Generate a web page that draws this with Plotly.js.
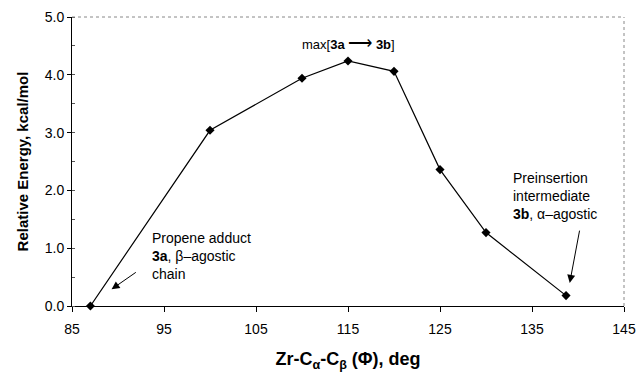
<!DOCTYPE html>
<html><head><meta charset="utf-8">
<script src="https://cdn.plot.ly/plotly-3.0.1.min.js"></script>
<style>html,body{margin:0;padding:0;background:#fff}#c{width:638px;height:372px}</style>
</head><body><div id="c"></div>
<script>
const angles = [87, 100, 110, 115, 120, 125, 130, 138.7];
const energies = [0.0, 3.04, 3.94, 4.24, 4.06, 2.36, 1.27, 0.18];
const xTicks = [85, 95, 105, 115, 125, 135, 145];
const yTicks = [0, 1, 2, 3, 4, 5];
const yTickLabels = ['0.0', '1.0', '2.0', '3.0', '4.0', '5.0'];

const F = 'Liberation Sans, Arial, sans-serif';
const trace = {
  x: angles, y: energies, type: 'scatter', mode: 'lines+markers',
  line: {color: '#000', width: 1.2},
  marker: {symbol: 'diamond', size: 7, color: '#000'},
  cliponaxis: false
};
const layout = {
  width: 638, height: 372,
  margin: {l: 72, r: 14, t: 17, b: 66},
  paper_bgcolor: '#fff', plot_bgcolor: '#fff',
  showlegend: false,
  font: {family: F, color: '#000', size: 13},
  xaxis: {
    range: [85, 145], tickvals: xTicks, ticktext: xTicks.map(String),
    showgrid: false, zeroline: false,
    showline: true, linecolor: '#000', linewidth: 1, mirror: false,
    ticks: 'outside', ticklen: 5, tickcolor: '#000',
    ticklabelstandoff: 5,
    tickfont: {size: 14, family: F},
    title: {text: '<b>Zr-C<sub>α</sub>-C<sub>β</sub> (Φ), deg</b>', font: {size: 18, family: F}, standoff: 16}
  },
  yaxis: {
    range: [0, 5], tickvals: yTicks, ticktext: yTickLabels,
    showgrid: false, zeroline: false,
    showline: true, linecolor: '#000', linewidth: 1,
    ticks: 'outside', ticklen: 4, tickcolor: '#000',
    minor: {dtick: 0.5, ticks: 'inside', ticklen: 3, tickcolor: '#555'},
    tickfont: {size: 14, family: F},
    title: {text: '<b>Relative Energy, kcal/mol</b>', font: {size: 15, family: F}, standoff: 12}
  },
  shapes: [
    {type: 'line', xref: 'paper', yref: 'paper', x0: 0, x1: 1, y0: 1, y1: 1, line: {color: '#888', width: 1, dash: 'dot'}},
    {type: 'line', xref: 'paper', yref: 'paper', x0: 1, x1: 1, y0: 0, y1: 1, line: {color: '#888', width: 1, dash: 'dot'}}
  ],
  annotations: [
    {x: 115, y: 4.55, xref: 'x', yref: 'y', text: 'max[<b>3a</b> <span style="font-size:17px">⟶</span> <b>3b</b>]', showarrow: false, font: {size: 13, family: F}},
    {x: 93.5, y: 0.86, xref: 'x', yref: 'y', xanchor: 'left', yanchor: 'middle', align: 'left',
     text: 'Propene adduct<br><b>3a</b>, β–agostic<br>chain', showarrow: false, font: {size: 14, family: F}},
    {x: 89.3, y: 0.29, ax: 92.1, ay: 0.6, xref: 'x', yref: 'y', axref: 'x', ayref: 'y', text: '',
     showarrow: true, arrowhead: 2, arrowsize: 1.6, arrowwidth: 1, arrowcolor: '#000'},
    {x: 132.7, y: 1.9, xref: 'x', yref: 'y', xanchor: 'left', yanchor: 'middle', align: 'left',
     text: 'Preinsertion<br>intermediate<br><b>3b</b>, α–agostic', showarrow: false, font: {size: 14, family: F}},
    {x: 139.1, y: 0.4, ax: 140.2, ay: 1.33, xref: 'x', yref: 'y', axref: 'x', ayref: 'y', text: '',
     showarrow: true, arrowhead: 2, arrowsize: 1.6, arrowwidth: 1, arrowcolor: '#000'}
  ]
};
Plotly.newPlot('c', [trace], layout, {staticPlot: true, displayModeBar: false});
</script></body></html>
